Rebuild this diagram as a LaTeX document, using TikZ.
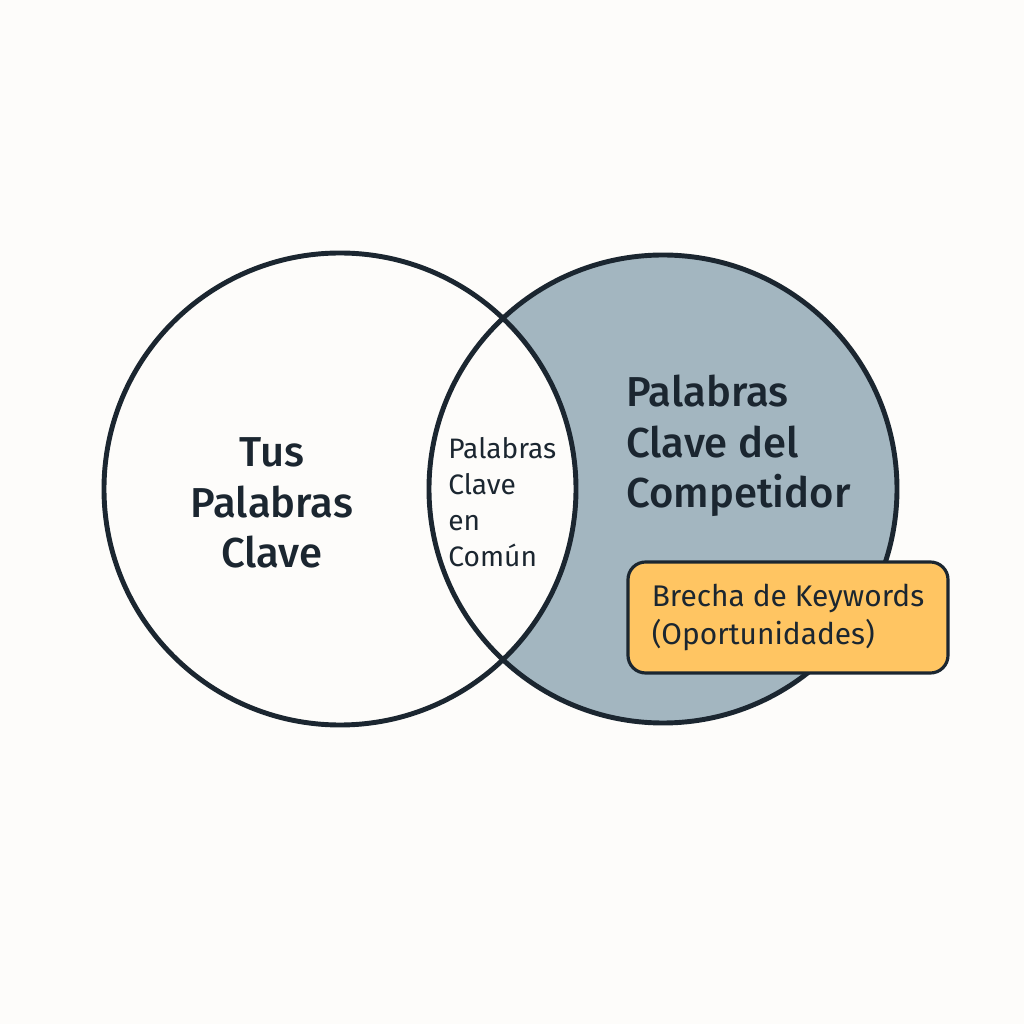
\documentclass[tikz,border=0pt]{standalone}
\usepackage{fontspec}
\setmainfont{Fira Sans}[BoldFont={Fira Sans Medium}]
\usepackage{tikz}
\usetikzlibrary{positioning}

\definecolor{bgcol}{HTML}{FDFCFA}
\definecolor{inkcol}{HTML}{1B2630}
\definecolor{compcol}{HTML}{A3B6C0}
\definecolor{gapcol}{HTML}{FFC562}

\tikzset{
  ring/.style={draw=inkcol, line width=1.4pt},
  title/.style={text=inkcol, font=\bfseries\fontsize{11.9}{14.4}\selectfont, align=center},
  small/.style={text=inkcol, font=\fontsize{8.0}{10.2}\selectfont, align=left}
}

\begin{document}
\begin{tikzpicture}
    % Canvas
    \useasboundingbox (0,0) rectangle (10.24,10.24);
    \fill[bgcol] (0,0) rectangle (10.24,10.24);

    % Circle centres
    \coordinate (tusc) at (3.40,5.35);
    \coordinate (compc) at (6.63,5.35);

    % Competitor set (filled), common part left white
    \fill[compcol] (compc) circle (2.34);
    \begin{scope}
        \clip (tusc) circle (2.36);
        \fill[bgcol] (compc) circle (2.34);
    \end{scope}

    % Outlines
    \draw[ring] (tusc) circle (2.36);
    \draw[ring] (compc) circle (2.34);

    % Labels
    \node[title] (tus) at (2.72,5.21) {Tus\\Palabras\\Clave};
    \node[title, align=left, anchor=west] (comp) at (6.14,5.78) {Palabras\\Clave del\\Competidor};
    \node[small, anchor=west] (common) at (4.36,5.22) {Palabras\\Clave\\en\\Común};

    % Gap box
    \node[draw=inkcol, line width=0.9pt, fill=gapcol, rounded corners=5pt,
          minimum width=3.2cm, minimum height=1.11cm,
          align=left, text=inkcol, font=\fontsize{8.5}{10.6}\selectfont]
          (gap) at (7.88,4.065) {Brecha de Keywords\\(Oportunidades)};
\end{tikzpicture}
\end{document}
